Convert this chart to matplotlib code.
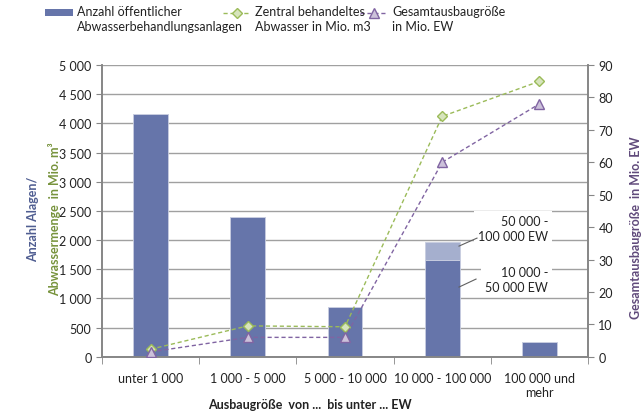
import matplotlib.pyplot as plt
from matplotlib.lines import Line2D
from matplotlib.patches import Rectangle
import numpy as np

plt.rcParams['font.family'] = ['Lato', 'DejaVu Sans']

kategorien = ['unter 1 000', '1 000 - 5 000', '5 000 - 10 000', '10 000 - 100 000', '100 000 und\nmehr']
anlagen = [4160, 2390, 860, 1665, 250]
anlagen_oben = [0, 0, 0, 305, 0]      # Anteil 50 000 - 100 000 EW
abwasser = [130, 530, 515, 4120, 4720]   # Mio. m3
ausbau = [1.5, 6, 6, 60, 78]             # Mio. EW

blau = '#6675aa'
blau_hell = '#a5afce'
gruen = '#9bbb59'
lila = '#8064a2'
grau = '#a0a0a0'
W, H = 643, 414

fig = plt.figure(figsize=(6.43, 4.14), dpi=100)
ax = fig.add_axes([102 / W, 0.1357, 486 / W, 0.7049])
ax2 = ax.twinx()

x = np.arange(len(kategorien))
ax.bar(x, anlagen, width=0.36, color=blau, edgecolor='#c8cde0', linewidth=0.6, zorder=2)
ax.bar(x, anlagen_oben, bottom=anlagen, width=0.36, color=blau_hell, edgecolor='#c8cde0', linewidth=0.6, zorder=2)

ax.plot(x, abwasser, ls='--', dashes=(3, 2), color=gruen, lw=1, marker='D', ms=5,
        mfc='#d7e4bd', mec=gruen, mew=1, zorder=4)
ax2.plot(x, ausbau, ls='--', dashes=(3, 2), color=lila, lw=1, marker='^', ms=6.5,
         mfc='#ccc1da', mec=lila, mew=1, zorder=4)

ax.set_xlim(-0.5, 4.5)
ax.set_ylim(0, 5000)
ax2.set_ylim(0, 90)
ax.set_yticks(np.arange(0, 5001, 500))
ax.set_yticklabels([f'{v:,}'.replace(',', ' ') for v in range(0, 5001, 500)])
ax2.set_yticks(np.arange(0, 91, 10))
ax.yaxis.grid(True, color=grau, lw=1, zorder=0)
ax.set_axisbelow(True)

ax.set_xticks(x)
ax.set_xticklabels(kategorien, fontsize=9, color='#222222')
ax.tick_params(axis='x', length=0, pad=11)
ax.set_xticks(np.arange(-0.5, 5, 1), minor=True)
ax.tick_params(axis='x', which='minor', length=5, color='#868686')
ax.tick_params(axis='y', length=4, color='#868686', labelsize=9, labelcolor='#222222')
ax2.tick_params(axis='y', length=4, color='#868686', labelsize=9, labelcolor='#222222')

for a in (ax, ax2):
    a.spines['top'].set_visible(False)
    for s in ('left', 'right', 'bottom'):
        a.spines[s].set_color('#868686')
        a.spines[s].set_linewidth(1.2)

# Achsenbeschriftungen
fig.text(310 / W, 1 - 405 / H, 'Ausbaugröße  von ...  bis unter ... EW', ha='center', va='center',
         fontsize=9, fontweight='bold', color='#222222')
fig.text(33 / W, 0.47, 'Anzahl Alagen/', rotation=90, ha='center', va='center',
         fontsize=9, fontweight='bold', color='#4f5d91')
fig.text(55 / W, 0.47, 'Abwassermenge  in Mio. m³', rotation=90, ha='center', va='center',
         fontsize=9, fontweight='bold', color='#77933c')
fig.text(636 / W, 0.45, 'Gesamtausbaugröße  in Mio. EW', rotation=90, ha='center', va='center',
         fontsize=9, fontweight='bold', color='#604a7b')

# Beschriftung der gestapelten Säule
bbox = dict(facecolor='white', edgecolor='none', pad=3)
ax.text(4.09, 2195, '50 000 -\n100 000 EW', ha='right', va='center', fontsize=9,
        color='#222222', bbox=bbox, zorder=5, linespacing=1.25)
ax.text(4.09, 1323, '10 000 -\n50 000 EW', ha='right', va='center', fontsize=9,
        color='#222222', bbox=bbox, zorder=5, linespacing=1.25)
ax.plot([3.173, 3.358], [1897, 2034], color='#606060', lw=0.8, zorder=6)
ax.plot([3.173, 3.348], [1195, 1332], color='#606060', lw=0.8, zorder=6)

# Legende oben
def fx(px):
    return px / W

def fy(py):
    return 1 - py / H

fig.patches.append(Rectangle((fx(45), fy(17)), 28 / W, 7 / H, transform=fig.transFigure,
                             facecolor=blau, edgecolor='none'))
fig.text(fx(77), fy(6), 'Anzahl öffentlicher\nAbwasserbehandlungsanlagen', ha='left', va='top',
         fontsize=9, color='#222222', linespacing=1.3)
fig.lines.append(Line2D([fx(223), fx(250)], [fy(14), fy(14)], transform=fig.transFigure,
                        ls='--', dashes=(3, 2), color=gruen, lw=1))
fig.lines.append(Line2D([fx(236.5)], [fy(14)], transform=fig.transFigure, marker='D', ms=5,
                        mfc='#d7e4bd', mec=gruen, mew=1, ls='none'))
fig.text(fx(255), fy(6), 'Zentral behandeltes\nAbwasser in Mio. m3', ha='left', va='top',
         fontsize=9, color='#222222', linespacing=1.3)
fig.lines.append(Line2D([fx(360), fx(387)], [fy(14), fy(14)], transform=fig.transFigure,
                        ls='--', dashes=(3, 2), color=lila, lw=1))
fig.lines.append(Line2D([fx(373.5)], [fy(14)], transform=fig.transFigure, marker='^', ms=6.5,
                        mfc='#ccc1da', mec=lila, mew=1, ls='none'))
fig.text(fx(392), fy(6), 'Gesamtausbaugröße\nin Mio. EW', ha='left', va='top',
         fontsize=9, color='#222222', linespacing=1.3)

fig.savefig('out.png', dpi=100)
